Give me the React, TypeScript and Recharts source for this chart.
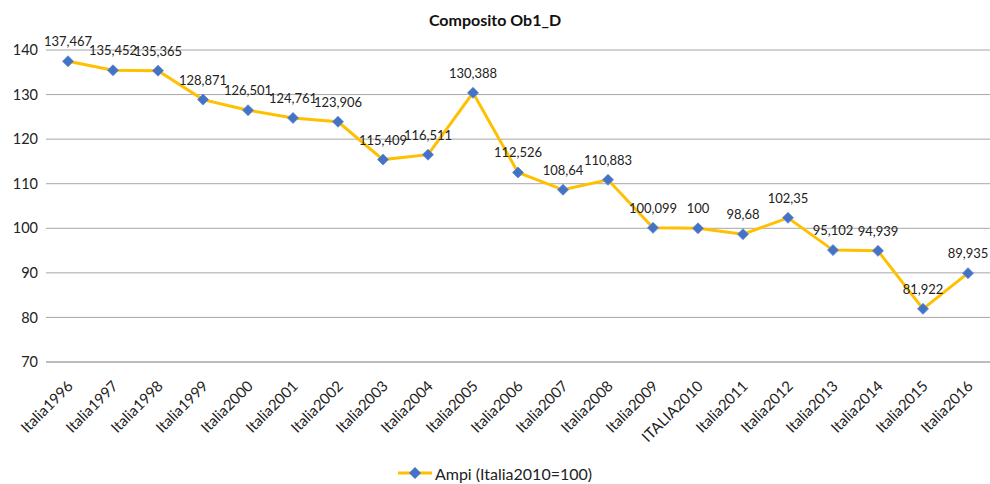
import React from "react";
import {
  CartesianGrid,
  LabelList,
  Legend,
  Line,
  LineChart,
  XAxis,
  YAxis,
} from "recharts";

const categories = [
  "Italia1996", "Italia1997", "Italia1998", "Italia1999", "Italia2000",
  "Italia2001", "Italia2002", "Italia2003", "Italia2004", "Italia2005",
  "Italia2006", "Italia2007", "Italia2008", "Italia2009", "ITALIA2010",
  "Italia2011", "Italia2012", "Italia2013", "Italia2014", "Italia2015",
  "Italia2016",
];

const ampi = [
  137.467, 135.452, 135.365, 128.871, 126.501, 124.761, 123.906, 115.409,
  116.511, 130.388, 112.526, 108.64, 110.883, 100.099, 100, 98.68, 102.35,
  95.102, 94.939, 81.922, 89.935,
];

const yTicks = [70, 80, 90, 100, 110, 120, 130, 140];

const FONT = "Lato, 'Open Sans', sans-serif";
const LINE = "#FFC000";
const MARK = "#4472C4";

const data = categories.map((c, i) => ({ name: c, value: ampi[i] }));

const Diamond = (props: any) => {
  const { cx, cy } = props;
  if (cx == null || cy == null) return null;
  const r = 5.5;
  return (
    <polygon
      points={`${cx},${cy - r} ${cx + r},${cy} ${cx},${cy + r} ${cx - r},${cy}`}
      fill={MARK}
      stroke="#5a86cf"
      strokeWidth={0.8}
    />
  );
};

const XTick = (props: any) => {
  const { x, y, payload } = props;
  return (
    <g transform={`translate(${x + 6},${y + 17}) rotate(-45)`}>
      <text x={0} y={0} textAnchor="end" fontSize={15} fill="#222" fontFamily={FONT}>
        {payload.value}
      </text>
    </g>
  );
};

const LegendBox = () => (
  <div
    style={{
      display: "flex",
      justifyContent: "center",
      alignItems: "center",
      fontFamily: FONT,
      fontSize: 16,
      color: "#222",
      height: 22,
    }}
  >
    <svg width={34} height={14} style={{ marginRight: 3 }}>
      <line x1={0} y1={7} x2={34} y2={7} stroke={LINE} strokeWidth={3} />
      <polygon points="17,1 23,7 17,13 11,7" fill={MARK} />
    </svg>
    Ampi (Italia2010=100)
  </div>
);

export default function App() {
  return (
    <div style={{ position: "fixed", left: 0, top: 0, width: 990, height: 484, background: "#fff" }}>
      <div
        style={{
          position: "absolute",
          top: 10,
          left: 0,
          width: 990,
          textAlign: "center",
          fontFamily: FONT,
          fontWeight: 700,
          fontSize: 16,
          color: "#111",
        }}
      >
        Composito Ob1_D
      </div>
      <LineChart
        width={990}
        height={484}
        data={data}
        margin={{ top: 50, right: 0, bottom: 0, left: 0 }}
      >
        <CartesianGrid vertical={false} stroke="#a6a6a6" strokeWidth={1} />
        <XAxis
          dataKey="name"
          interval={0}
          height={100}
          tick={<XTick />}
          tickLine={false}
          axisLine={{ stroke: "#a6a6a6" }}
          padding={{ left: 22, right: 22 }}
        />
        <YAxis
          domain={[70, 140]}
          ticks={yTicks}
          width={46}
          axisLine={false}
          tickLine={false}
          tick={{ fontSize: 14.5, fill: "#222", fontFamily: FONT }}
        />
        <Legend verticalAlign="bottom" content={<LegendBox />} wrapperStyle={{ bottom: 0 }} />
        <Line
          type="linear"
          dataKey="value"
          stroke={LINE}
          strokeWidth={3}
          dot={<Diamond />}
          activeDot={false}
          isAnimationActive={false}
        >
          <LabelList
            dataKey="value"
            position="top"
            offset={15}
            formatter={(v: any) => String(v).replace(".", ",")}
            style={{ fontSize: 13, fill: "#222", fontFamily: FONT }}
          />
        </Line>
      </LineChart>
    </div>
  );
}
